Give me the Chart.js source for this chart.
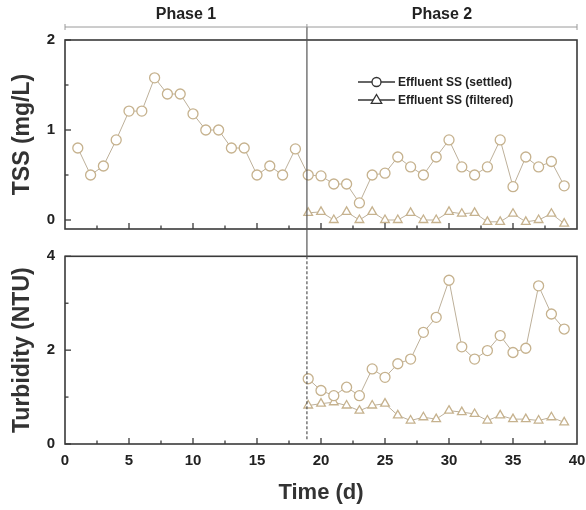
<!DOCTYPE html>
<html><head><meta charset="utf-8">
<script src="https://cdn.jsdelivr.net/npm/chart.js@4.4.0/dist/chart.umd.min.js"></script>
<style>
html,body{margin:0;padding:0;background:#fff;}
#wrap{position:relative;width:586px;height:510px;overflow:hidden;}
#ca{position:absolute;left:0;top:0;}
#cb{position:absolute;left:0;top:250px;}
</style></head><body>
<div id="wrap">
<canvas id="ca" width="586" height="250"></canvas>
<canvas id="cb" width="586" height="260"></canvas>
</div>
<script>
// ---------- data ----------
const days = [1,2,3,4,5,6,7,8,9,10,11,12,13,14,15,16,17,18,19,20,21,22,23,24,25,26,27,28,29,30,31,32,33,34,35,36,37,38,39];
const ssSettled = [0.80,0.50,0.60,0.89,1.21,1.21,1.58,1.40,1.40,1.18,1.00,1.00,0.80,0.80,0.50,0.60,0.50,0.79,
                   0.50,0.49,0.40,0.40,0.19,0.50,0.52,0.70,0.59,0.50,0.70,0.89,0.59,0.50,0.59,0.89,0.37,0.70,0.59,0.65,0.38];
const phase2Days = [19,20,21,22,23,24,25,26,27,28,29,30,31,32,33,34,35,36,37,38,39];
const ssFiltered = [0.08,0.09,0.00,0.09,0.00,0.09,0.00,0.00,0.08,0.00,0.00,0.09,0.07,0.08,-0.02,-0.02,0.07,-0.02,0.00,0.07,-0.04];
const turbSettled = [1.39,1.14,1.03,1.21,1.03,1.60,1.42,1.71,1.81,2.38,2.70,3.49,2.07,1.81,1.99,2.31,1.95,2.04,3.37,2.77,2.45];
const turbFiltered = [0.82,0.86,0.89,0.82,0.71,0.82,0.86,0.61,0.50,0.57,0.53,0.71,0.68,0.64,0.50,0.61,0.53,0.53,0.50,0.57,0.46];
const xTickLabels = [0,5,10,15,20,25,30,35,40];
const tssTickLabels = [0,1,2];
const turbTickLabels = [0,2,4];
const phaseBoundary = 18.9;
const phaseNames = ['Phase 1','Phase 2'];
const seriesNames = ['Effluent SS (settled)','Effluent SS (filtered)','Effluent Turbidity (settled)','Effluent Turbidity (filtered)'];

const pts = (xs, ys) => xs.map((x,i)=>({x, y: ys[i]}));

// ---------- styles ----------
const markerColor = '#c6b28e';
const lineColor = '#bdb09a';
const frameColor = '#3a3a3a';
const FONT = '"Liberation Sans", Arial, sans-serif';

function ds(label, data, style){
  return {label, data, pointStyle: style, pointRadius: 5, pointBorderWidth: 1.3,
    pointBorderColor: markerColor, pointBackgroundColor: '#fff',
    borderColor: lineColor, borderWidth: 1, showLine: true, fill: false, tension: 0};
}

const decor = {
  id: 'decor',
  afterDatasetsDraw(chart, args, o){
    const {ctx, chartArea: ca, scales: {x, y}} = chart;
    ctx.save();
    // frame
    ctx.strokeStyle = frameColor; ctx.lineWidth = 1.6;
    ctx.strokeRect(ca.left, ca.top, ca.right - ca.left, ca.bottom - ca.top);
    // inward ticks on x
    ctx.lineWidth = 1.3;
    for (let v = x.min + o.xMinor; v < x.max; v += o.xMinor){
      const px = x.getPixelForValue(v);
      const major = Math.abs(v % o.xMajor) < 1e-6;
      ctx.beginPath(); ctx.moveTo(px, ca.bottom); ctx.lineTo(px, ca.bottom - (major ? 6 : 3.5)); ctx.stroke();
    }
    // inward ticks on y
    for (let v = o.yStart; v <= y.max + 1e-6; v += o.yMinor){
      const py = y.getPixelForValue(v);
      const major = Math.abs((v / o.yMajor) - Math.round(v / o.yMajor)) < 1e-6;
      ctx.beginPath(); ctx.moveTo(ca.left, py); ctx.lineTo(ca.left + (major ? 6 : 3.5), py); ctx.stroke();
    }
    // phase divider
    const bx = x.getPixelForValue(phaseBoundary);
    ctx.strokeStyle = '#555';
    ctx.lineWidth = 1.2;
    if (o.dividerDashed){
      ctx.beginPath(); ctx.moveTo(bx, 0); ctx.lineTo(bx, ca.top); ctx.stroke();
      ctx.setLineDash([3,2]);
      ctx.beginPath(); ctx.moveTo(bx, ca.top); ctx.lineTo(bx, ca.bottom - 4); ctx.stroke();
      ctx.setLineDash([]);
    } else {
      ctx.beginPath(); ctx.moveTo(bx, o.bracketY); ctx.lineTo(bx, chart.height); ctx.stroke();
    }
    // bracket + phase names
    if (o.phases){
      const x0 = x.getPixelForValue(x.min), x1 = x.getPixelForValue(x.max);
      ctx.strokeStyle = '#9a9a9a'; ctx.lineWidth = 1;
      ctx.beginPath(); ctx.moveTo(x0, o.bracketY); ctx.lineTo(x1, o.bracketY); ctx.stroke();
      [x0, bx, x1].forEach(px => { ctx.beginPath(); ctx.moveTo(px, o.bracketY - 3); ctx.lineTo(px, o.bracketY + 3); ctx.stroke(); });
      ctx.fillStyle = '#222'; ctx.font = 'bold 16px ' + FONT;
      ctx.textAlign = 'center'; ctx.textBaseline = 'middle';
      ctx.fillText(phaseNames[0], (x0 + bx) / 2, o.phaseY);
      ctx.fillText(phaseNames[1], (bx + x1) / 2, o.phaseY);
    }
    // legend
    if (o.legend){
      const L = o.legend;
      chart.data.datasets.forEach((d, i) => {
        const ly = L.y + i * L.gap;
        ctx.strokeStyle = '#333'; ctx.lineWidth = 1.3;
        ctx.beginPath(); ctx.moveTo(L.x, ly); ctx.lineTo(L.x + L.len, ly); ctx.stroke();
        const cx = L.x + L.len / 2;
        ctx.fillStyle = '#fff'; ctx.strokeStyle = '#333'; ctx.lineWidth = 1.3;
        ctx.beginPath();
        if (d.pointStyle === 'triangle'){
          const r = 5.5;
          ctx.moveTo(cx, ly - r); ctx.lineTo(cx + r * 0.95, ly + r * 0.6); ctx.lineTo(cx - r * 0.95, ly + r * 0.6); ctx.closePath();
        } else {
          ctx.arc(cx, ly, 4.5, 0, Math.PI * 2);
        }
        ctx.fill(); ctx.stroke();
        ctx.fillStyle = '#222'; ctx.font = 'bold 12px ' + FONT;
        ctx.textAlign = 'left'; ctx.textBaseline = 'middle';
        ctx.fillText(d.label, L.x + L.len + 3, ly + 0.5);
      });
    }
    ctx.restore();
  }
};

function yAxis(min, max, tickVals, title){
  return {
    type: 'linear', min, max,
    afterFit(s){ s.width = 65; s.paddingTop = 0; s.paddingBottom = 0; },
    afterBuildTicks(s){ s.ticks = tickVals.map(v => ({value: v})); },
    grid: {display: false, drawTicks: false}, border: {display: false},
    ticks: {color: '#222', padding: 10, font: {family: FONT, size: 15, weight: 'bold'}},
    title: {display: true, text: title, color: '#333', padding: {top: 9, bottom: 0},
            font: {family: FONT, size: 23, weight: 'bold'}}
  };
}

const common = {
  responsive: false, animation: false,
  plugins: {legend: {display: false}, tooltip: {enabled: false}}
};

new Chart(document.getElementById('ca'), {
  type: 'scatter',
  data: {datasets: [
    ds(seriesNames[0], pts(days, ssSettled), 'circle'),
    ds(seriesNames[1], pts(phase2Days, ssFiltered), 'triangle')
  ]},
  options: {...common,
    layout: {padding: {top: 40, right: 9, left: 0, bottom: 0}},
    scales: {
      x: {type: 'linear', min: 0, max: 40, afterFit(s){ s.height = 21; s.paddingLeft = 0; s.paddingRight = 0; },
          grid: {display: false, drawTicks: false}, border: {display: false}, ticks: {display: false}},
      y: yAxis(-0.1, 2, tssTickLabels, 'TSS (mg/L)')
    },
    plugins: {...common.plugins,
      decor: {xMinor: 2.5, xMajor: 5, yStart: 0, yMinor: 0.5, yMajor: 1,
              phases: true, bracketY: 27, phaseY: 15,
              legend: {x: 358, y: 82, gap: 18, len: 37}}}
  },
  plugins: [decor]
});

new Chart(document.getElementById('cb'), {
  type: 'scatter',
  data: {datasets: [
    ds(seriesNames[2], pts(phase2Days, turbSettled), 'circle'),
    ds(seriesNames[3], pts(phase2Days, turbFiltered), 'triangle')
  ]},
  options: {...common,
    layout: {padding: {top: 5, right: 9, left: 0, bottom: 0}},
    scales: {
      x: {type: 'linear', min: 0, max: 40, afterFit(s){ s.height = 66; s.paddingLeft = 0; s.paddingRight = 0; },
          afterBuildTicks(s){ s.ticks = xTickLabels.map(v => ({value: v})); },
          grid: {display: false, drawTicks: false}, border: {display: false},
          ticks: {color: '#222', padding: 8, font: {family: FONT, size: 15, weight: 'bold'}},
          title: {display: true, text: 'Time (d)', color: '#333', padding: {top: 0, bottom: 4},
                  font: {family: FONT, size: 22, weight: 'bold'}}},
      y: yAxis(0, 4, turbTickLabels, 'Turbidity (NTU)')
    },
    plugins: {...common.plugins,
      decor: {xMinor: 2.5, xMajor: 5, yStart: 0, yMinor: 1, yMajor: 2,
              dividerDashed: true,
              legend: {x: 90, y: 347, gap: 19, len: 37}}}
  },
  plugins: [decor]
});
</script>
</body></html>
